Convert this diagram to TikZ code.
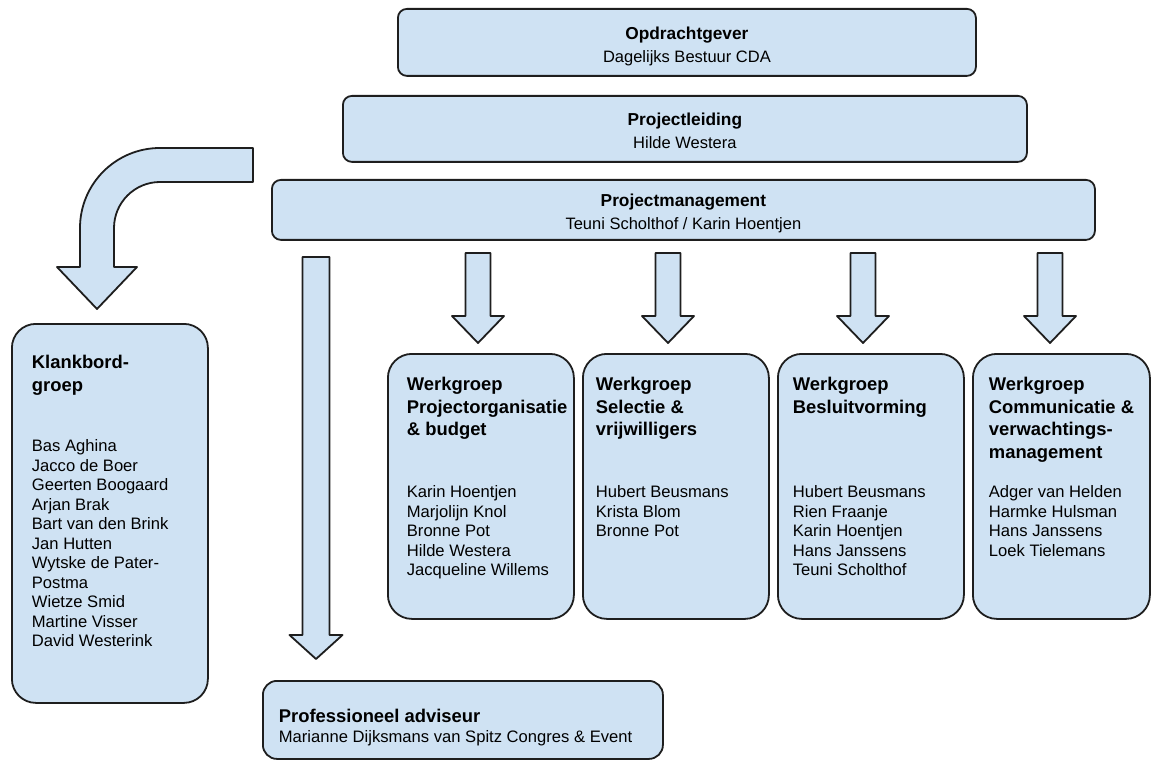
\documentclass[tikz,border=0pt]{standalone}
\usepackage{fontspec}
\setmainfont{Liberation Sans}
\usepackage{tikz}
\definecolor{boxblue}{HTML}{CFE2F3}
\definecolor{boxline}{HTML}{1E1E1E}
\newcommand{\kopfont}{\fontsize{17.3}{22.5}\selectfont\bfseries}
\newcommand{\onderfont}{\fontsize{16.5}{22.5}\selectfont}
\newcommand{\titelfont}{\fontsize{18.4}{22.5}\selectfont\bfseries}
\newcommand{\naamfont}{\fontsize{16.6}{19.5}\selectfont}
% width, height, space above the first line, text
\newcommand{\centertext}[4]{\parbox[t][#2pt][t]{#1pt}{\centering\vspace*{#3pt}#4}}
% width, height, space above the first line, left inset, text
\newcommand{\lefttext}[5]{\parbox[t][#2pt][t]{#1pt}{\raggedright\leftskip=#4pt\vspace*{#3pt}#5}}
% top coordinate, shaft length, half shaft, half head, head length
\newcommand{\blockarrow}[5]{\draw[arrowshape] (#1) ++(-#3,0) -- ++(0,#2) -- ++({#3-#4},0)
  -- ++(#4,#5) -- ++(#4,-#5) -- ++({#3-#4},0) -- ++(0,-#2) -- cycle;}
\tikzset{orgbox/.style={ % every box of the chart
  draw=boxline, line width=1.8pt, fill=boxblue,
  inner sep=0pt, anchor=north west, rounded corners=9pt},
  groupbox/.style={orgbox, rounded corners=24pt}, % the tall boxes
  arrowshape/.style={ % the wide arrows
  draw=boxline, line width=1.8pt, fill=boxblue, line join=round}}

\begin{document}
\begin{tikzpicture}[x=1pt, y=-1pt]
    \useasboundingbox (0,0) rectangle (1153,767);

    \node[orgbox] (opdracht) at (397,8) {\centertext{578}{67}{15.25}{%
      {\kopfont\strut Opdrachtgever\par}{\onderfont Dagelijks Bestuur CDA\par}}};
    \node[orgbox] (leiding) at (342,95) {\centertext{684}{66}{14.25}{%
      {\kopfont\strut Projectleiding\par}{\onderfont Hilde Westera\par}}};
    \node[orgbox] (management) at (271,179) {\centertext{823}{60}{11.25}{%
      {\kopfont\strut Projectmanagement\par}{\onderfont Teuni Scholthof / Karin Hoentjen\par}}};

    \node[groupbox] (klankbord) at (11,323) {\lefttext{196}{379}{29.25}{20}{%
      {\titelfont\strut Klankbord-\\groep\par}\vspace{41pt}%
      {\naamfont Bas Aghina\\Jacco de Boer\\Geerten Boogaard\\Arjan Brak\\Bart van den Brink\\Jan Hutten\\
      Wytske de Pater-\\Postma\\Wietze Smid\\Martine Visser\\David Westerink\par}}};

    \node[groupbox] (wg1) at (387,353) {\lefttext{186}{265}{21.25}{19}{%
      {\titelfont\strut Werkgroep\\Projectorganisatie\\\& budget\par}\vspace{42.5pt}%
      {\naamfont Karin Hoentjen\\Marjolijn Knol\\Bronne Pot\\Hilde Westera\\Jacqueline Willems\par}}};
    \node[groupbox] (wg2) at (582,353) {\lefttext{186}{265}{21.25}{13}{%
      {\titelfont\strut Werkgroep\\Selectie \&\\vrijwilligers\par}\vspace{42.5pt}%
      {\naamfont Hubert Beusmans\\Krista Blom\\Bronne Pot\par}}};
    \node[groupbox] (wg3) at (777,353) {\lefttext{186}{265}{21.25}{15}{%
      {\titelfont\strut Werkgroep\\Besluitvorming\par}\vspace{65pt}%
      {\naamfont Hubert Beusmans\\Rien Fraanje\\Karin Hoentjen\\Hans Janssens\\Teuni Scholthof\par}}};
    \node[groupbox] (wg4) at (972,353) {\lefttext{177}{265}{21.25}{16}{%
      {\titelfont\strut Werkgroep\\Communicatie \&\\verwachtings-\\management\par}\vspace{20pt}%
      {\naamfont Adger van Helden\\Harmke Hulsman\\Hans Janssens\\Loek Tielemans\par}}};

    \node[orgbox, rounded corners=14pt] (adviseur) at (262,680) {\lefttext{400}{78}{26.25}{16}{%
      {\titelfont\strut Professioneel adviseur\par}{\naamfont Marianne Dijksmans van Spitz Congres \& Event\par}}};

    % arrows out of the management box
    \coordinate (naar1) at (478,253);
    \coordinate (naar2) at (668,253);
    \coordinate (naar3) at (863,253);
    \coordinate (naar4) at (1050,253);
    \coordinate (naaradv) at (316,257);
    \blockarrow{naar1}{63}{12.5}{26}{27}
    \blockarrow{naar2}{63}{12.5}{26}{27}
    \blockarrow{naar3}{63}{12.5}{26}{27}
    \blockarrow{naar4}{63}{12.5}{26}{27}
    \blockarrow{naaradv}{378}{13.5}{26.5}{24}

    % bent arrow to the klankbordgroep
    \draw[arrowshape] (253,148) -- (160,148) .. controls (115.8,148) and (80,183.8) .. (80,228)
      -- (80,267) -- (57,267) -- (97,309) -- (137,267) -- (114,267)
      -- (114,228) .. controls (114,202.6) and (134.6,182) .. (160,182) -- (253,182) -- cycle;

\end{tikzpicture}
\end{document}
